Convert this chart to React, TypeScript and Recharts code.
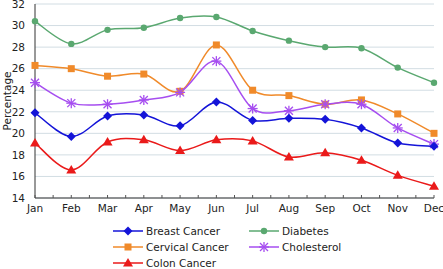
import React from "react";
import { LineChart, Line, XAxis, YAxis, CartesianGrid, Legend } from "recharts";

const MONTHS = ["Jan", "Feb", "Mar", "Apr", "May", "Jun", "Jul", "Aug", "Sep", "Oct", "Nov", "Dec"];
const BREAST = [21.9, 19.7, 21.6, 21.7, 20.7, 22.9, 21.2, 21.4, 21.3, 20.5, 19.1, 18.8];
const DIABETES = [30.4, 28.3, 29.6, 29.8, 30.7, 30.8, 29.5, 28.6, 28.0, 27.9, 26.1, 24.7];
const CERVICAL = [26.3, 26.0, 25.3, 25.5, 23.9, 28.2, 24.0, 23.5, 22.7, 23.1, 21.8, 20.0];
const CHOLESTEROL = [24.7, 22.8, 22.7, 23.1, 23.8, 26.7, 22.3, 22.1, 22.7, 22.7, 20.5, 19.0];
const COLON = [19.1, 16.6, 19.2, 19.4, 18.4, 19.4, 19.3, 17.8, 18.2, 17.5, 16.1, 15.1];
const Y_TICKS = [14, 16, 18, 20, 22, 24, 26, 28, 30, 32];
const X_TICKS = Array.from({ length: 23 }, (_, i) => i / 2);

const FONT = "'DejaVu Sans', Verdana, sans-serif";

const data = MONTHS.map((m, i) => ({
  idx: i,
  month: m,
  breast: BREAST[i],
  diabetes: DIABETES[i],
  cervical: CERVICAL[i],
  cholesterol: CHOLESTEROL[i],
  colon: COLON[i],
}));

// Catmull-Rom style curve, passed to recharts as a d3 curve factory.
function smoothCurve(context: any) {
  let xs: number[] = [];
  let ys: number[] = [];
  return {
    areaStart() {},
    areaEnd() {},
    lineStart() {
      xs = [];
      ys = [];
    },
    point(x: number, y: number) {
      xs.push(+x);
      ys.push(+y);
    },
    lineEnd() {
      const n = xs.length;
      if (!n) return;
      context.moveTo(xs[0], ys[0]);
      for (let i = 0; i < n - 1; i++) {
        const p = i > 0 ? i - 1 : i;
        const q = i + 2 < n ? i + 2 : i + 1;
        context.bezierCurveTo(
          xs[i] + (xs[i + 1] - xs[p]) / 6,
          ys[i] + (ys[i + 1] - ys[p]) / 6,
          xs[i + 1] - (xs[q] - xs[i]) / 6,
          ys[i + 1] - (ys[q] - ys[i]) / 6,
          xs[i + 1],
          ys[i + 1]
        );
      }
    },
  };
}

type MarkerKind = "diamond" | "circle" | "square" | "star" | "triangle";

function Marker({ kind, cx, cy, color }: { kind: MarkerKind; cx: number; cy: number; color: string }) {
  if (kind === "diamond")
    return <polygon points={`${cx},${cy - 4.5} ${cx + 4.5},${cy} ${cx},${cy + 4.5} ${cx - 4.5},${cy}`} fill={color} />;
  if (kind === "circle") return <circle cx={cx} cy={cy} r={3.2} fill={color} />;
  if (kind === "square") return <rect x={cx - 3.5} y={cy - 3.5} width={7} height={7} fill={color} />;
  if (kind === "triangle")
    return <polygon points={`${cx},${cy - 5} ${cx + 5},${cy + 3.5} ${cx - 5},${cy + 3.5}`} fill={color} />;
  return (
    <g stroke={color} strokeWidth={1.3}>
      <line x1={cx - 4} y1={cy - 4} x2={cx + 4} y2={cy + 4} />
      <line x1={cx - 4} y1={cy + 4} x2={cx + 4} y2={cy - 4} />
      <line x1={cx} y1={cy - 5} x2={cx} y2={cy + 5} />
      <line x1={cx - 5} y1={cy} x2={cx + 5} y2={cy} />
    </g>
  );
}

const SERIES: { key: string; name: string; color: string; kind: MarkerKind }[] = [
  { key: "diabetes", name: "Diabetes", color: "#5aa870", kind: "circle" },
  { key: "cervical", name: "Cervical Cancer", color: "#f08a2a", kind: "square" },
  { key: "cholesterol", name: "Cholesterol", color: "#a64ef0", kind: "star" },
  { key: "breast", name: "Breast Cancer", color: "#1414d8", kind: "diamond" },
  { key: "colon", name: "Colon Cancer", color: "#ea1a1a", kind: "triangle" },
];

const LEGEND_ORDER = ["breast", "diabetes", "cervical", "cholesterol", "colon"];

function MonthTick(props: any) {
  const { x, y, payload } = props;
  const v = payload.value;
  return (
    <g>
      <line x1={x} y1={y} x2={x} y2={y - 3} stroke="#555" strokeWidth={1} />
      {Number.isInteger(v) && (
        <text x={x} y={y + 14} textAnchor="middle" fill="#222" fontSize={10.5} fontFamily={FONT}>
          {MONTHS[v]}
        </text>
      )}
    </g>
  );
}

function LegendBox() {
  return (
    <svg width={443} height={51} style={{ display: "block" }}>
      {LEGEND_ORDER.map((k, i) => {
        const s = SERIES.find((d) => d.key === k)!;
        const col = i % 2;
        const row = Math.floor(i / 2);
        const x0 = col === 0 ? 113 : 249;
        const y = 13 + row * 16;
        return (
          <g key={k}>
            <line x1={x0} y1={y} x2={x0 + 30} y2={y} stroke={s.color} strokeWidth={1.5} />
            <Marker kind={s.kind} cx={x0 + 15} cy={y} color={s.color} />
            <text x={x0 + 33} y={y + 4} fontSize={10.5} fontFamily={FONT} fill="#222">
              {s.name}
            </text>
          </g>
        );
      })}
    </svg>
  );
}

export default function App() {
  return (
    <div style={{ position: "absolute", left: 0, top: 0, background: "#fff" }}>
      <LineChart width={443} height={269} data={data} margin={{ top: 4, right: 9, bottom: 0, left: 0 }}>
        <CartesianGrid vertical={false} stroke="#d2dde3" strokeWidth={1} />
        <XAxis
          dataKey="idx"
          type="number"
          domain={[0, 11]}
          ticks={X_TICKS}
          interval={0}
          tick={<MonthTick />}
          tickLine={false}
          tickSize={0}
          tickMargin={0}
          axisLine={{ stroke: "#333", strokeWidth: 1 }}
          height={20}
        />
        <XAxis xAxisId="top" orientation="top" dataKey="idx" type="number" domain={[0, 11]} tick={false} tickLine={false} axisLine={{ stroke: "#333" }} height={0} />
        <YAxis
          domain={[14, 32]}
          ticks={Y_TICKS}
          interval={0}
          tickLine={false}
          tickMargin={4}
          axisLine={{ stroke: "#333", strokeWidth: 1 }}
          tick={{ fill: "#222", fontSize: 10.5, fontFamily: FONT }}
          width={35}
          label={{ value: "Percentage", angle: -90, position: "insideLeft", offset: 7, style: { fill: "#222", fontSize: 10.5, fontFamily: FONT, textAnchor: "middle" } }}
        />
        <YAxis yAxisId="right" orientation="right" domain={[14, 32]} tick={false} tickLine={false} axisLine={{ stroke: "#333" }} width={0} />
        <Legend verticalAlign="bottom" height={51} content={() => <LegendBox />} wrapperStyle={{ left: 0, bottom: 0, width: 443, height: 51 }} />
        {SERIES.map((s) => (
          <Line
            key={s.key}
            dataKey={s.key}
            name={s.name}
            type={smoothCurve as any}
            stroke={s.color}
            strokeWidth={1.5}
            dot={(p: any) => <Marker key={p.index} kind={s.kind} cx={p.cx} cy={p.cy} color={s.color} />}
            activeDot={false}
            isAnimationActive={false}
          />
        ))}
      </LineChart>
    </div>
  );
}
